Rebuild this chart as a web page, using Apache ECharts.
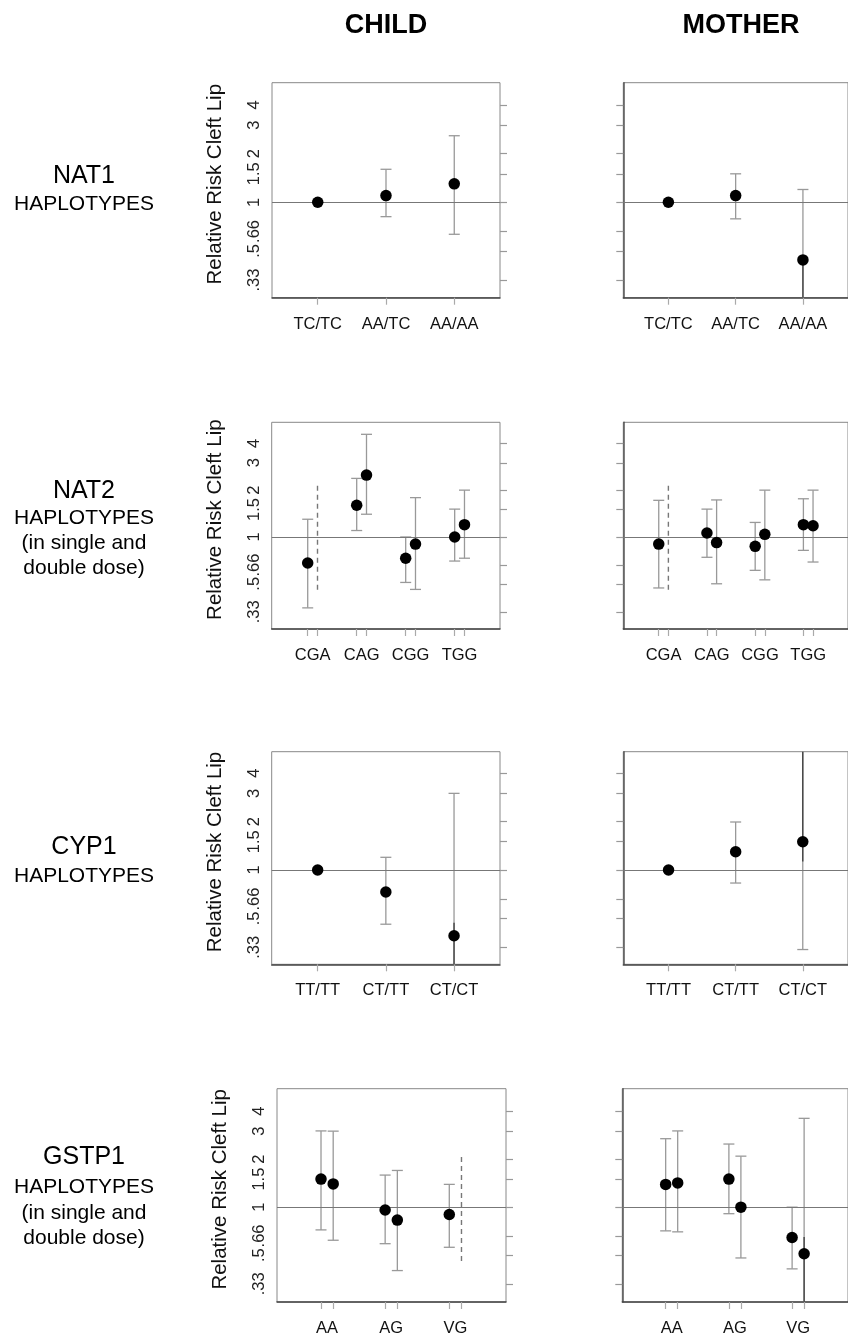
<!DOCTYPE html>
<html>
<head>
<meta charset="utf-8">
<script src="https://cdn.jsdelivr.net/npm/echarts@6/dist/echarts.min.js"></script>
<style>
html, body { margin: 0; padding: 0; background: #fff; }
#main { width: 848px; height: 1337px; }
</style>
</head>
<body>
<div id="main"></div>
<script>
// y ticks (log scale, relative risk)
var yTickValues = [0.33, 0.5, 0.66, 1, 1.5, 2, 3, 4];
var yTickLabels = ['.33', '.5', '.66', '1', '1.5', '2', '3', '4'];
var yTitle = 'Relative Risk Cleft Lip';
var colTitles = ['CHILD', 'MOTHER'];

// NAT1
var nat1Names = ['TC/TC', 'AA/TC', 'AA/AA'];
var nat1NameAt = [1, 2, 3];
var nat1X = [1, 2, 3];
var nat1ChildEst = [1.00, 1.10, 1.30];
var nat1ChildLo = [null, 0.815, 0.634];
var nat1ChildHi = [null, 1.60, 2.58];
var nat1ChildDark = [null, null, null];
var nat1MotherEst = [1.00, 1.10, 0.44];
var nat1MotherLo = [null, 0.79, 0.10];
var nat1MotherHi = [null, 1.50, 1.20];
var nat1MotherDark = [null, null, 0.44];

// NAT2 (single / double dose pairs)
var nat2Names = ['CGA', 'CAG', 'CGG', 'TGG'];
var nat2NameAt = [1.1, 2.1, 3.1, 4.1];
var nat2X = [1, 1.2, 2, 2.2, 3, 3.2, 4, 4.2];
var nat2ChildEst = [0.68, null, 1.60, 2.50, 0.73, 0.90, 1.00, 1.20];
var nat2ChildLo = [0.35, null, 1.10, 1.40, 0.51, 0.46, 0.70, 0.73];
var nat2ChildHi = [1.30, null, 2.38, 4.57, 1.00, 1.79, 1.51, 2.00];
var nat2ChildDark = [null, null, null, null, null, null, null, null];
var nat2ChildDashX = [1.2];
var nat2ChildDashLo = [0.457];
var nat2ChildDashHi = [2.21];
var nat2MotherEst = [0.90, null, 1.06, 0.92, 0.87, 1.04, 1.20, 1.18];
var nat2MotherLo = [0.47, null, 0.74, 0.50, 0.61, 0.53, 0.82, 0.69];
var nat2MotherHi = [1.72, null, 1.51, 1.73, 1.24, 2.00, 1.76, 2.00];
var nat2MotherDark = [null, null, null, null, null, null, null, null];
var nat2MotherDashX = [1.2];
var nat2MotherDashLo = [0.457];
var nat2MotherDashHi = [2.23];

// CYP1
var cyp1Names = ['TT/TT', 'CT/TT', 'CT/CT'];
var cyp1NameAt = [1, 2, 3];
var cyp1X = [1, 2, 3];
var cyp1ChildEst = [1.00, 0.73, 0.39];
var cyp1ChildLo = [null, 0.46, 0.10];
var cyp1ChildHi = [null, 1.20, 3.00];
var cyp1ChildDark = [null, null, 0.47];
var cyp1MotherEst = [1.00, 1.30, 1.50];
var cyp1MotherLo = [null, 0.83, 0.32];
var cyp1MotherHi = [null, 1.99, 10.0];
var cyp1MotherDark = [null, null, 1.13];

// GSTP1 (single / double dose pairs)
var gstp1Names = ['AA', 'AG', 'VG'];
var gstp1NameAt = [1.095, 2.095, 3.095];
var gstp1X = [1, 1.19, 2, 2.19, 3, 3.19];
var gstp1ChildEst = [1.50, 1.40, 0.96, 0.83, 0.90, null];
var gstp1ChildLo = [0.72, 0.62, 0.59, 0.40, 0.56, null];
var gstp1ChildHi = [3.01, 3.00, 1.59, 1.70, 1.39, null];
var gstp1ChildDark = [null, null, null, null, null, null];
var gstp1ChildDashX = [3.19];
var gstp1ChildDashLo = [0.46];
var gstp1ChildDashHi = [2.15];
var gstp1MotherEst = [1.39, 1.42, 1.50, 1.00, 0.645, 0.51];
var gstp1MotherLo = [0.71, 0.70, 0.91, 0.48, 0.41, 0.10];
var gstp1MotherHi = [2.69, 3.01, 2.49, 2.09, 1.00, 3.61];
var gstp1MotherDark = [null, null, null, null, null, 0.65];

var rowLabels = [
  ['NAT1', 'HAPLOTYPES'],
  ['NAT2', 'HAPLOTYPES', '(in single and', 'double dose)'],
  ['CYP1', 'HAPLOTYPES'],
  ['GSTP1', 'HAPLOTYPES', '(in single and', 'double dose)']
];

var FONT = "'Liberation Sans', Arial, Helvetica, sans-serif";

var panels = [
  {names: nat1Names, nameAt: nat1NameAt, x: nat1X, est: nat1ChildEst, lo: nat1ChildLo, hi: nat1ChildHi, dark: nat1ChildDark,
   child: true, left: 272, top: 82.7, width: 228, height: 215, xMin: 0.33, xMax: 3.67, yMin: 0.257, yMax: 5.49},
  {names: nat1Names, nameAt: nat1NameAt, x: nat1X, est: nat1MotherEst, lo: nat1MotherLo, hi: nat1MotherHi, dark: nat1MotherDark,
   child: false, left: 623.3, top: 82.7, width: 228, height: 215, xMin: 0.33, xMax: 3.67, yMin: 0.257, yMax: 5.49},
  {names: nat2Names, nameAt: nat2NameAt, x: nat2X, est: nat2ChildEst, lo: nat2ChildLo, hi: nat2ChildHi, dark: nat2ChildDark,
   dashX: nat2ChildDashX, dashLo: nat2ChildDashLo, dashHi: nat2ChildDashHi,
   child: true, left: 271.7, top: 422.3, width: 228.3, height: 206.7, xMin: 0.265, xMax: 4.925, yMin: 0.256, yMax: 5.46},
  {names: nat2Names, nameAt: nat2NameAt, x: nat2X, est: nat2MotherEst, lo: nat2MotherLo, hi: nat2MotherHi, dark: nat2MotherDark,
   dashX: nat2MotherDashX, dashLo: nat2MotherDashLo, dashHi: nat2MotherDashHi,
   child: false, left: 623.3, top: 422.3, width: 228.3, height: 206.7, xMin: 0.265, xMax: 4.925, yMin: 0.256, yMax: 5.46},
  {names: cyp1Names, nameAt: cyp1NameAt, x: cyp1X, est: cyp1ChildEst, lo: cyp1ChildLo, hi: cyp1ChildHi, dark: cyp1ChildDark,
   child: true, left: 271.7, top: 751.7, width: 228.3, height: 212.6, xMin: 0.326, xMax: 3.674, yMin: 0.259, yMax: 5.45},
  {names: cyp1Names, nameAt: cyp1NameAt, x: cyp1X, est: cyp1MotherEst, lo: cyp1MotherLo, hi: cyp1MotherHi, dark: cyp1MotherDark,
   child: false, left: 623.3, top: 751.7, width: 228.3, height: 212.6, xMin: 0.326, xMax: 3.674, yMin: 0.259, yMax: 5.45},
  {names: gstp1Names, nameAt: gstp1NameAt, x: gstp1X, est: gstp1ChildEst, lo: gstp1ChildLo, hi: gstp1ChildHi, dark: gstp1ChildDark,
   dashX: gstp1ChildDashX, dashLo: gstp1ChildDashLo, dashHi: gstp1ChildDashHi,
   child: true, left: 277, top: 1088.7, width: 229, height: 213.6, xMin: 0.314, xMax: 3.884, yMin: 0.254, yMax: 5.54},
  {names: gstp1Names, nameAt: gstp1NameAt, x: gstp1X, est: gstp1MotherEst, lo: gstp1MotherLo, hi: gstp1MotherHi, dark: gstp1MotherDark,
   child: false, left: 622.3, top: 1088.7, width: 229, height: 213.6, xMin: 0.314, xMax: 3.884, yMin: 0.254, yMax: 5.54}
];

function findLabel(values, labels, v) {
  for (var i = 0; i < values.length; i++) {
    if (Math.abs(values[i] - v) < 1e-6) return labels[i];
  }
  return '';
}

// error bars: vertical line + caps, dark segment for bars running off the plot
function renderBars(params, api) {
  var cs = params.coordSys;
  var top = cs.y, bot = cs.y + cs.height;
  var xv = api.value(0);
  var x = api.coord([xv, 1])[0];
  var yLo = api.coord([xv, api.value(1)])[1];
  var yHi = api.coord([xv, api.value(2)])[1];
  var darkFrom = api.value(3);
  var kids = [];
  var s = {stroke: '#999', lineWidth: 1.3};
  var y1 = Math.max(top, Math.min(bot, yHi));
  var y2 = Math.max(top, Math.min(bot, yLo));
  kids.push({type: 'line', shape: {x1: x, y1: y1, x2: x, y2: y2}, style: s});
  if (yHi >= top) kids.push({type: 'line', shape: {x1: x - 5.5, y1: yHi, x2: x + 5.5, y2: yHi}, style: s});
  if (yLo <= bot) kids.push({type: 'line', shape: {x1: x - 5.5, y1: yLo, x2: x + 5.5, y2: yLo}, style: s});
  if (!isNaN(darkFrom)) {
    var yd = api.coord([xv, darkFrom])[1];
    var yEnd = yLo > bot ? bot : top;
    kids.push({type: 'line', shape: {x1: x, y1: yd, x2: x, y2: yEnd}, style: {stroke: '#444', lineWidth: 1.4}});
  }
  return {type: 'group', children: kids};
}

function renderDash(params, api) {
  var xv = api.value(0);
  var p1 = api.coord([xv, api.value(1)]);
  var p2 = api.coord([xv, api.value(2)]);
  return {type: 'line', shape: {x1: p1[0], y1: p1[1], x2: p2[0], y2: p2[1]},
          style: {stroke: '#777', lineWidth: 1.4, lineDash: [5, 4]}};
}

var grids = [], xAxes = [], yAxes = [], series = [];

panels.forEach(function (p, i) {
  grids.push({left: p.left, top: p.top, width: p.width, height: p.height,
              show: true, borderColor: '#888', borderWidth: 1, backgroundColor: 'transparent'});
  xAxes.push({
    type: 'value', gridIndex: i, min: p.xMin, max: p.xMax,
    axisLine: {show: true, lineStyle: {color: '#444', width: 1.5}},
    axisTick: {show: true, customValues: p.x, length: 7, lineStyle: {color: '#aaa', width: 1.2}},
    splitLine: {show: false},
    axisLabel: {
      customValues: p.nameAt, margin: 18, color: '#111', fontSize: 16.5, fontFamily: FONT,
      formatter: (function (pp) { return function (v) { return findLabel(pp.nameAt, pp.names, v); }; })(p)
    }
  });
  var yMain = yAxes.length;
  if (p.child) {
    yAxes.push({
      type: 'log', gridIndex: i, min: p.yMin, max: p.yMax, position: 'left',
      name: yTitle, nameLocation: 'middle', nameGap: 46, nameRotate: 90,
      nameTextStyle: {fontSize: 20.5, color: '#111', fontFamily: FONT, padding: [0, 0, 0, 12]},
      axisLine: {show: false}, axisTick: {show: false}, splitLine: {show: false}, minorTick: {show: false},
      axisLabel: {
        customValues: yTickValues, rotate: 90, margin: 9, fontSize: 16.5, color: '#222', fontFamily: FONT,
        formatter: function (v) { return findLabel(yTickValues, yTickLabels, v); }
      }
    });
    yAxes.push({
      type: 'log', gridIndex: i, min: p.yMin, max: p.yMax, position: 'right',
      axisLine: {show: false}, splitLine: {show: false}, axisLabel: {show: false},
      axisTick: {show: true, customValues: yTickValues, length: 7, lineStyle: {color: '#999', width: 1.2}}
    });
  } else {
    yAxes.push({
      type: 'log', gridIndex: i, min: p.yMin, max: p.yMax, position: 'left',
      axisLine: {show: true, lineStyle: {color: '#555', width: 1.5}}, splitLine: {show: false},
      axisLabel: {show: false},
      axisTick: {show: true, customValues: yTickValues, length: 7, lineStyle: {color: '#999', width: 1.2}}
    });
  }

  var barData = [], pointData = [];
  for (var k = 0; k < p.x.length; k++) {
    if (p.est[k] !== null) pointData.push([p.x[k], p.est[k]]);
    if (p.lo[k] !== null && p.hi[k] !== null) {
      barData.push([p.x[k], p.lo[k], p.hi[k], p.dark[k] === null ? NaN : p.dark[k]]);
    }
  }

  series.push({
    type: 'custom', xAxisIndex: i, yAxisIndex: yMain, renderItem: renderBars, data: barData,
    silent: true, z: 2,
    markLine: {silent: true, symbol: 'none', label: {show: false},
               lineStyle: {color: '#777', width: 1, type: 'solid'}, data: [{yAxis: 1}]}
  });
  if (p.dashX) {
    var dashData = [];
    for (var d = 0; d < p.dashX.length; d++) dashData.push([p.dashX[d], p.dashLo[d], p.dashHi[d]]);
    series.push({type: 'custom', xAxisIndex: i, yAxisIndex: yMain, renderItem: renderDash, data: dashData, silent: true, z: 2});
  }
  series.push({
    type: 'scatter', xAxisIndex: i, yAxisIndex: yMain, data: pointData,
    symbol: 'circle', symbolSize: 11.5, itemStyle: {color: '#000', opacity: 1}, silent: true, z: 5
  });
});

// column and row headings
var graphics = [
  {type: 'text', x: 386, y: 26, style: {text: colTitles[0], font: "bold 27px " + FONT, fill: '#000', textAlign: 'center', textVerticalAlign: 'middle'}},
  {type: 'text', x: 741, y: 26, style: {text: colTitles[1], font: "bold 27px " + FONT, fill: '#000', textAlign: 'center', textVerticalAlign: 'middle'}}
];
var rowLineY = [[176, 204], [491, 518, 543, 568], [847, 876], [1157, 1187, 1213, 1238]];
rowLabels.forEach(function (lines, r) {
  lines.forEach(function (t, j) {
    graphics.push({type: 'text', x: 84, y: rowLineY[r][j],
      style: {text: t, font: (j === 0 ? '25px ' : '21px ') + FONT, fill: '#000', textAlign: 'center', textVerticalAlign: 'middle'}});
  });
});

var chart = echarts.init(document.getElementById('main'), null, {renderer: 'canvas'});
chart.setOption({
  backgroundColor: '#fff',
  animation: false,
  grid: grids,
  xAxis: xAxes,
  yAxis: yAxes,
  series: series,
  graphic: graphics
});
</script>
</body>
</html>
